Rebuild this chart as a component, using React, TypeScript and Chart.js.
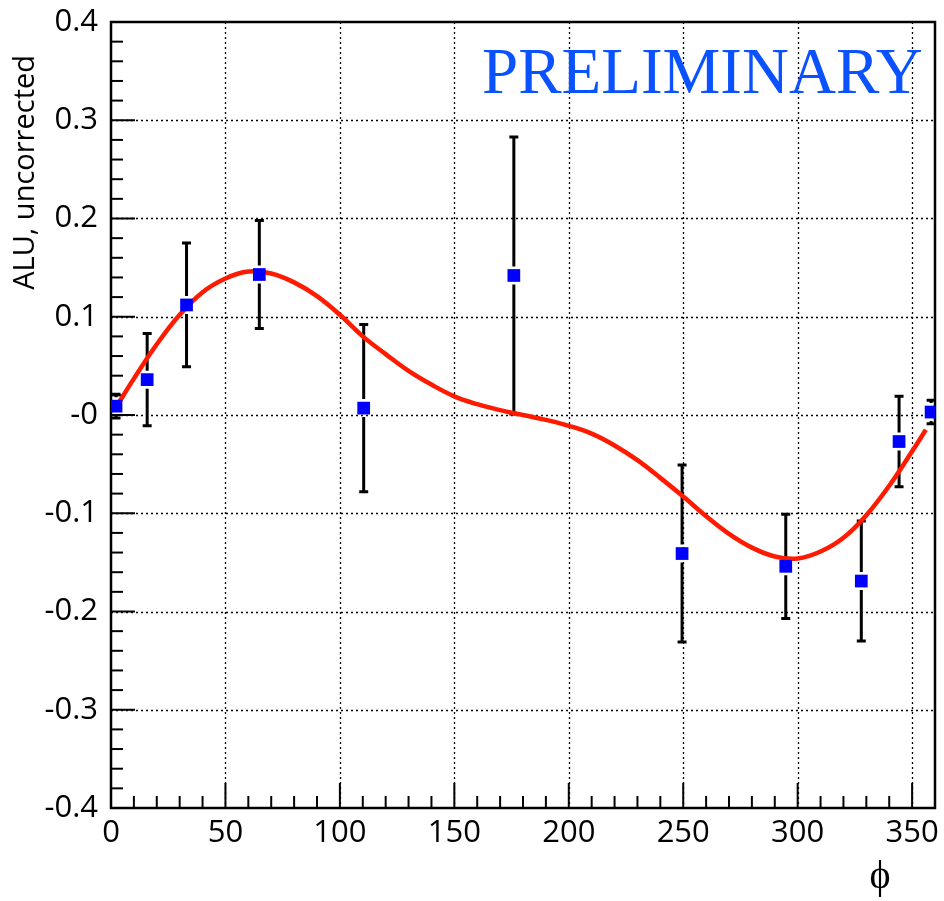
import React, { useEffect, useRef } from "react";
import { Chart, registerables } from "chart.js";

Chart.register(...registerables);

// Measured points: phi (deg), A_LU (uncorrected), symmetric error
const phiValues = [2.2, 15.8, 33, 64.8, 110.4, 176, 249.5, 294.8, 327.8, 344.3, 358.3];
const aluValues = [0.009, 0.036, 0.112, 0.143, 0.007, 0.142, -0.141, -0.154, -0.169, -0.027, 0.003];
const aluErrors = [0.012, 0.047, 0.063, 0.055, 0.085, 0.141, 0.09, 0.053, 0.061, 0.046, 0.012];

// Fitted curve
const fitPhi = [2.5, 10, 20, 30, 40, 50, 60, 70, 80, 90, 100, 110, 120, 130, 140, 150, 160, 170, 180,
  190, 200, 210, 220, 230, 240, 250, 260, 270, 280, 290, 300, 310, 320, 330, 340, 350, 356];
const fitValues = [0.009, 0.037, 0.072, 0.102, 0.125, 0.139, 0.146, 0.144, 0.135, 0.121, 0.102, 0.08,
  0.062, 0.045, 0.031, 0.019, 0.011, 0.005, 0.0, -0.005, -0.011, -0.019, -0.031, -0.046, -0.064,
  -0.083, -0.103, -0.121, -0.135, -0.144, -0.146, -0.139, -0.125, -0.102, -0.072, -0.037, -0.015];

const xTickValues = [0, 50, 100, 150, 200, 250, 300, 350];
const xTickLabels = ["0", "50", "100", "150", "200", "250", "300", "350"];
const yTickValues = [-0.4, -0.3, -0.2, -0.1, 0, 0.1, 0.2, 0.3, 0.4];
const yTickLabels = ["-0.4", "-0.3", "-0.2", "-0.1", "-0", "0.1", "0.2", "0.3", "0.4"];

const yTitle = "ALU, uncorrected";
const xTitle = "\u03D5";
const stampText = "PRELIMINARY";

const TICK_FONT = "'Open Sans', sans-serif";

const decorPlugin = {
  id: "decor",
  beforeDatasetsDraw(chart: any) {
    const { ctx, chartArea, scales } = chart;
    const { left, right, top, bottom } = chartArea;
    const xs = scales.x;
    const ys = scales.y;
    ctx.save();
    // dotted grid
    ctx.strokeStyle = "#000";
    ctx.lineWidth = 1.3;
    ctx.setLineDash([2, 3]);
    xTickValues.forEach((v) => {
      if (v <= xs.min || v >= xs.max) return;
      const px = Math.round(xs.getPixelForValue(v)) + 0.5;
      ctx.beginPath();
      ctx.moveTo(px, top);
      ctx.lineTo(px, bottom);
      ctx.stroke();
    });
    yTickValues.forEach((v) => {
      if (v <= ys.min + 1e-9 || v >= ys.max - 1e-9) return;
      const py = Math.round(ys.getPixelForValue(v)) + 0.5;
      ctx.beginPath();
      ctx.moveTo(left, py);
      ctx.lineTo(right, py);
      ctx.stroke();
    });
    ctx.setLineDash([]);
    // tick marks
    ctx.lineWidth = 2;
    for (let v = 0; v <= 360; v += 10) {
      const px = xs.getPixelForValue(v);
      const len = v % 50 === 0 ? 25 : 12;
      ctx.beginPath();
      ctx.moveTo(px, bottom);
      ctx.lineTo(px, bottom - len);
      ctx.stroke();
    }
    for (let i = -20; i <= 20; i++) {
      const v = i * 0.02;
      const py = ys.getPixelForValue(v);
      const len = i % 5 === 0 ? 24 : 12;
      ctx.beginPath();
      ctx.moveTo(left, py);
      ctx.lineTo(left + len, py);
      ctx.stroke();
    }
    // frame
    ctx.lineWidth = 2.5;
    ctx.strokeRect(left, top, right - left, bottom - top);
    // error bars
    ctx.lineWidth = 3;
    ctx.strokeStyle = "#000";
    phiValues.forEach((p, i) => {
      const px = xs.getPixelForValue(p);
      const py = ys.getPixelForValue(aluValues[i]);
      const pt = ys.getPixelForValue(aluValues[i] + aluErrors[i]);
      const pb = ys.getPixelForValue(aluValues[i] - aluErrors[i]);
      const gap = 9;
      ctx.beginPath();
      if (pt < py - gap) {
        ctx.moveTo(px, pt);
        ctx.lineTo(px, py - gap);
      }
      if (pb > py + gap) {
        ctx.moveTo(px, py + gap);
        ctx.lineTo(px, pb);
      }
      ctx.moveTo(px - 4.5, pt);
      ctx.lineTo(px + 4.5, pt);
      ctx.moveTo(px - 4.5, pb);
      ctx.lineTo(px + 4.5, pb);
      ctx.stroke();
    });
    ctx.restore();
  },
  afterDraw(chart: any) {
    const { ctx } = chart;
    ctx.save();
    // stamp
    ctx.fillStyle = "#0a52ff";
    ctx.font = "65px 'Liberation Serif', serif";
    ctx.textAlign = "left";
    ctx.textBaseline = "alphabetic";
    ctx.fillText(stampText, 482, 93);
    // y title
    ctx.fillStyle = "#000";
    ctx.font = "29px " + TICK_FONT;
    ctx.translate(34, 55);
    ctx.rotate(-Math.PI / 2);
    ctx.textAlign = "right";
    ctx.fillText(yTitle, 0, 0);
    ctx.restore();
    // x title
    ctx.save();
    ctx.fillStyle = "#000";
    ctx.font = "40px 'Liberation Serif', serif";
    ctx.textAlign = "center";
    ctx.textBaseline = "alphabetic";
    ctx.fillText(xTitle, 880, 888);
    ctx.restore();
  },
};

export default function App() {
  const ref = useRef<HTMLCanvasElement | null>(null);
  useEffect(() => {
    if (!ref.current) return;
    const chart = new Chart(ref.current, {
      type: "scatter",
      data: {
        datasets: [
          {
            label: "data",
            data: phiValues.map((p, i) => ({ x: p, y: aluValues[i] })),
            showLine: false,
            pointStyle: "rect",
            pointRadius: 9,
            pointHoverRadius: 9,
            backgroundColor: "#0000ff",
            borderColor: "#0000ff",
            borderWidth: 0,
          },
          {
            label: "fit",
            data: fitPhi.map((p, i) => ({ x: p, y: fitValues[i] })),
            showLine: true,
            borderColor: "#ff1a00",
            borderWidth: 4.5,
            pointRadius: 0,
            pointHoverRadius: 0,
            tension: 0.4,
            fill: false,
          },
        ],
      },
      options: {
        animation: false,
        responsive: true,
        maintainAspectRatio: false,
        layout: { padding: { left: 0, right: 5, top: 22, bottom: 0 } },
        plugins: { legend: { display: false }, tooltip: { enabled: false } },
        scales: {
          x: {
            type: "linear",
            min: 0,
            max: 360,
            grid: { display: false, drawTicks: false },
            border: { display: false },
            afterBuildTicks: (s: any) => {
              s.ticks = xTickValues.map((v) => ({ value: v }));
            },
            afterFit: (s: any) => {
              s.height = 93;
              s.paddingLeft = 0;
              s.paddingRight = 0;
            },
            ticks: {
              autoSkip: false,
              maxRotation: 0,
              padding: 7,
              color: "#000",
              font: { family: TICK_FONT, size: 31 },
              callback: (_v: any, i: number) => xTickLabels[i],
            },
          },
          y: {
            type: "linear",
            min: -0.4,
            max: 0.4,
            grid: { display: false, drawTicks: false },
            border: { display: false },
            afterBuildTicks: (s: any) => {
              s.ticks = yTickValues.map((v) => ({ value: v }));
            },
            afterFit: (s: any) => {
              s.width = 111;
              s.paddingTop = 0;
              s.paddingBottom = 0;
            },
            ticks: {
              autoSkip: false,
              padding: 13,
              color: "#000",
              font: { family: TICK_FONT, size: 31 },
              callback: (_v: any, i: number) => yTickLabels[i],
            },
          },
        },
      },
      plugins: [decorPlugin],
    });
    return () => chart.destroy();
  }, []);
  return (
    <div style={{ position: "absolute", left: 0, top: 0, width: 944, height: 901, background: "#fff" }}>
      <canvas ref={ref} />
    </div>
  );
}
